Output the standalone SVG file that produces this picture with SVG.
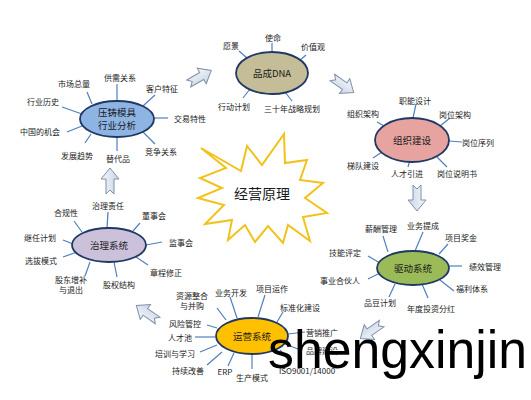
<svg xmlns="http://www.w3.org/2000/svg" width="531" height="400" viewBox="0 0 531 400">
<style>
.lbl{font-family:"Noto Sans CJK SC","Liberation Sans",sans-serif;font-size:8px;fill:#222;text-anchor:middle;dominant-baseline:central}
.nt{font-family:"Noto Sans CJK SC","Liberation Sans",sans-serif;font-size:9.5px;fill:#1a1a1a;text-anchor:middle;dominant-baseline:central}
.node{stroke:#1f3864;stroke-width:1.8}
.conn line{stroke:#4f7fbf;stroke-width:1.2}
.barrow{fill:url(#ag);stroke:#8090a8;stroke-width:1}
</style>
<defs>
<linearGradient id="ag" x1="0" y1="0" x2="0" y2="1">
<stop offset="0" stop-color="#f4f7fb"/><stop offset="1" stop-color="#c9d5e6"/>
</linearGradient>
<polygon id="ba" points="-13,-4 2,-4 2,-9 13,0 2,9 2,4 -13,4 -9,0"/>
</defs>
<rect width="531" height="400" fill="#fff"/>

<g id="connectors" class="conn">
<line x1="117" y1="84" x2="117" y2="101"/>
<line x1="87" y1="92" x2="92" y2="104"/>
<line x1="155" y1="95" x2="143" y2="106"/>
<line x1="62" y1="107" x2="82" y2="114"/>
<line x1="154" y1="118" x2="168" y2="118"/>
<line x1="67" y1="132" x2="82" y2="126"/>
<line x1="85" y1="143" x2="91" y2="134"/>
<line x1="117" y1="137" x2="117" y2="151"/>
<line x1="143" y1="132" x2="155" y2="144"/>

<line x1="239" y1="51" x2="247" y2="58"/>
<line x1="272" y1="43" x2="272" y2="52"/>
<line x1="306" y1="55" x2="299" y2="61"/>
<line x1="243" y1="98" x2="250" y2="89"/>
<line x1="292" y1="101" x2="285" y2="92"/>

<line x1="416" y1="104" x2="413" y2="118"/>
<line x1="377" y1="122" x2="386" y2="127"/>
<line x1="450" y1="118" x2="440" y2="126"/>
<line x1="449" y1="141" x2="462" y2="142"/>
<line x1="373" y1="158" x2="382" y2="152"/>
<line x1="410" y1="160" x2="408" y2="167"/>
<line x1="437" y1="157" x2="447" y2="167"/>

<line x1="383" y1="236" x2="388" y2="252"/>
<line x1="423" y1="232" x2="415" y2="251"/>
<line x1="448" y1="244" x2="439" y2="254"/>
<line x1="368" y1="256" x2="380" y2="263"/>
<line x1="449" y1="266" x2="462" y2="266"/>
<line x1="368" y1="279" x2="380" y2="273"/>
<line x1="440" y1="280" x2="454" y2="291"/>
<line x1="395" y1="284" x2="389" y2="297"/>
<line x1="422" y1="284" x2="428" y2="298"/>

<line x1="108" y1="212" x2="107" y2="228"/>
<line x1="74" y1="221" x2="82" y2="232"/>
<line x1="140" y1="223" x2="133" y2="231"/>
<line x1="63" y1="240" x2="73" y2="244"/>
<line x1="146" y1="245" x2="162" y2="242"/>
<line x1="63" y1="257" x2="77" y2="252"/>
<line x1="136" y1="257" x2="148" y2="265"/>
<line x1="85" y1="276" x2="90" y2="262"/>
<line x1="114" y1="262" x2="117" y2="277"/>

<line x1="217" y1="308" x2="226" y2="320"/>
<line x1="230" y1="297" x2="237" y2="318"/>
<line x1="265" y1="295" x2="258" y2="317"/>
<line x1="283" y1="312" x2="277" y2="322"/>
<line x1="207" y1="325" x2="217" y2="328"/>
<line x1="305" y1="332" x2="288" y2="334"/>
<line x1="195" y1="337" x2="215" y2="337"/>
<line x1="285" y1="344" x2="298" y2="349"/>
<line x1="200" y1="352" x2="217" y2="345"/>
<line x1="207" y1="365" x2="222" y2="352"/>
<line x1="228" y1="366" x2="234" y2="353"/>
<line x1="252" y1="369" x2="252" y2="354"/>
<line x1="280" y1="350" x2="290" y2="362"/>

<use href="#ba" class="barrow" transform="translate(200,77) rotate(-30)"/>
<use href="#ba" class="barrow" transform="translate(343,85) rotate(35)"/>
<use href="#ba" class="barrow" transform="translate(417,198) rotate(90)"/>
<use href="#ba" class="barrow" transform="translate(371,331) rotate(145)"/>
<use href="#ba" class="barrow" transform="translate(147,313) rotate(215)"/>
<use href="#ba" class="barrow" transform="translate(110,181) rotate(-90)"/>
</g>

<g id="node-industry">
<ellipse class="node" cx="117" cy="119" rx="37" ry="18" fill="#8eb4e3"/>
<text class="nt" x="117" y="112">压铸模具</text>
<text class="nt" x="117" y="125">行业分析</text>
<text class="lbl" x="120" y="77">供需关系</text>
<text class="lbl" x="74" y="83">市场总量</text>
<text class="lbl" x="162" y="88">客户特征</text>
<text class="lbl" x="43" y="101">行业历史</text>
<text class="lbl" x="190" y="118">交易特性</text>
<text class="lbl" x="40" y="131">中国的机会</text>
<text class="lbl" x="77" y="155">发展趋势</text>
<text class="lbl" x="118" y="158">替代品</text>
<text class="lbl" x="161" y="151">竞争关系</text>
</g>

<g id="node-dna">
<ellipse class="node" cx="272" cy="73" rx="36" ry="21" fill="#c4bd97"/>
<text class="nt" x="272" y="73">品成DNA</text>
<text class="lbl" x="231" y="45">愿景</text>
<text class="lbl" x="273" y="37">使命</text>
<text class="lbl" x="313" y="46">价值观</text>
<text class="lbl" x="234" y="106">行动计划</text>
<text class="lbl" x="292" y="108">三十年战略规划</text>
</g>

<g id="node-org">
<ellipse class="node" cx="412" cy="140" rx="37" ry="22" fill="#e6a3a0"/>
<text class="nt" x="412" y="140">组织建设</text>
<text class="lbl" x="415" y="100">职能设计</text>
<text class="lbl" x="363" y="113">组织架构</text>
<text class="lbl" x="455" y="114">岗位架构</text>
<text class="lbl" x="478" y="142">岗位序列</text>
<text class="lbl" x="363" y="165">梯队建设</text>
<text class="lbl" x="407" y="173">人才引进</text>
<text class="lbl" x="457" y="173">岗位说明书</text>
</g>

<g id="node-drive">
<ellipse class="node" cx="413" cy="268" rx="36" ry="17" fill="#9bbb59"/>
<text class="nt" x="413" y="268">驱动系统</text>
<text class="lbl" x="381" y="228">薪酬管理</text>
<text class="lbl" x="423" y="225">业务提成</text>
<text class="lbl" x="461" y="237">项目奖金</text>
<text class="lbl" x="345" y="252">技能评定</text>
<text class="lbl" x="485" y="266">绩效管理</text>
<text class="lbl" x="340" y="280">事业合伙人</text>
<text class="lbl" x="472" y="288">福利体系</text>
<text class="lbl" x="380" y="302">品豆计划</text>
<text class="lbl" x="431" y="308">年度投资分红</text>
</g>

<g id="node-governance">
<ellipse class="node" cx="109" cy="245" rx="37" ry="17" fill="#ccc1da"/>
<text class="nt" x="109" y="245">治理系统</text>
<text class="lbl" x="108" y="205">治理责任</text>
<text class="lbl" x="66" y="212">合规性</text>
<text class="lbl" x="154" y="215">董事会</text>
<text class="lbl" x="40" y="237">继任计划</text>
<text class="lbl" x="181" y="242">监事会</text>
<text class="lbl" x="41" y="260">选拔模式</text>
<text class="lbl" x="166" y="272">章程修正</text>
<text class="lbl" x="71" y="279">股东增补</text>
<text class="lbl" x="71" y="289">与退出</text>
<text class="lbl" x="119" y="284">股权结构</text>
</g>

<g id="node-operation">
<ellipse class="node" cx="252" cy="336" rx="36" ry="18" fill="#ffc000"/>
<text class="nt" x="252" y="336">运营系统</text>
<text class="lbl" x="192" y="295">资源整合</text>
<text class="lbl" x="192" y="305">与并购</text>
<text class="lbl" x="231" y="292">业务开发</text>
<text class="lbl" x="272" y="288">项目运作</text>
<text class="lbl" x="300" y="307">标准化建设</text>
<text class="lbl" x="185" y="323">风险管控</text>
<text class="lbl" x="322" y="332">营销推广</text>
<text class="lbl" x="180" y="337">人才池</text>
<text class="lbl" x="322" y="350">品牌建设</text>
<text class="lbl" x="175" y="353">培训与学习</text>
<text class="lbl" x="188" y="370">持续改善</text>
<text class="lbl" x="225" y="371">ERP</text>
<text class="lbl" x="252" y="377">生产模式</text>
<text class="lbl" x="307" y="370">ISO9001/14000</text>
</g>

<g id="node-center">
<polygon points="201,148 241,171 247,146 262,165 284,134 285,163 307,160 300,180 323,183 305,198 327,213 303,217 310,241 288,225 283,243 268,226 255,242 245,225 228,240 232,220 205,224 224,205 198,198 222,188 200,178 226,168" fill="#fff" stroke="#f2c21b" stroke-width="2" stroke-linejoin="miter"/>
<text x="262" y="193" font-family="Noto Sans CJK SC, Liberation Sans, sans-serif" font-size="14" fill="#1a1a1a" text-anchor="middle" dominant-baseline="central">经营原理</text>
</g>

<text x="268" y="368" font-family="Liberation Sans, Arial, sans-serif" font-size="53" fill="#000" textLength="259" lengthAdjust="spacingAndGlyphs">shengxinjin</text>
</svg>
